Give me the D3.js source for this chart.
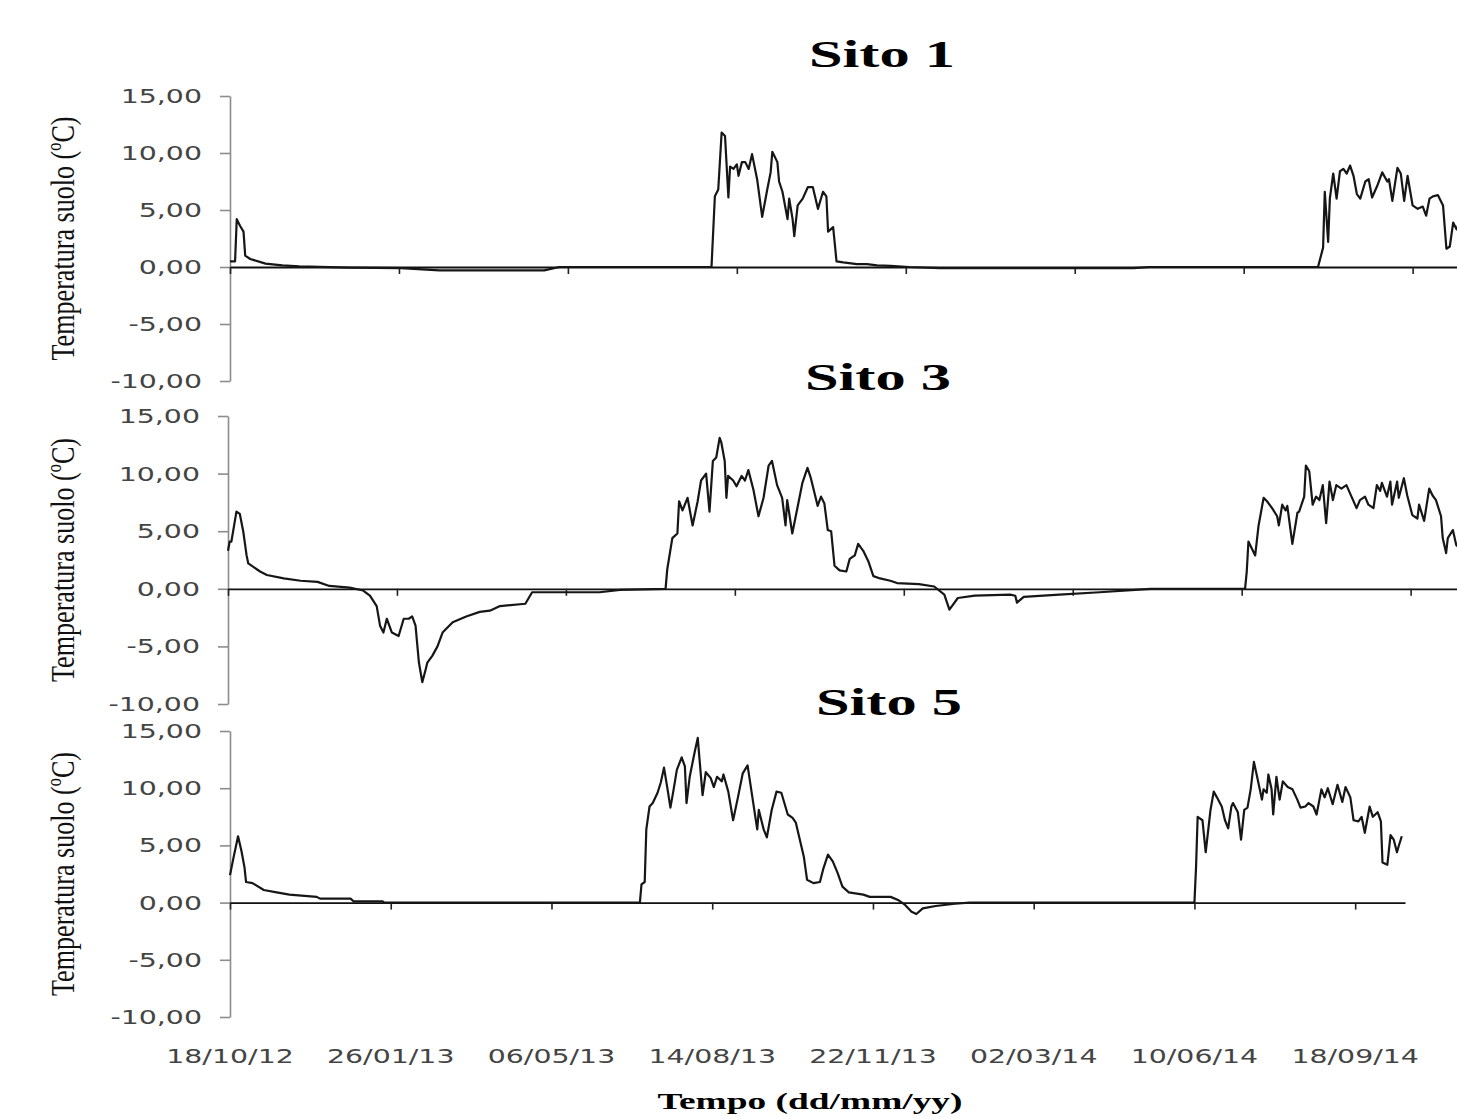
<!DOCTYPE html>
<html>
<head>
<meta charset="utf-8">
<script src="https://cdn.jsdelivr.net/npm/d3@7"></script>
<style>
  body { margin: 0; background: #fff; overflow: hidden; }
  svg { display: block; }
</style>
</head>
<body>
<div id="chart"></div>
<script>
// record starts 18/10/12, ticks every 100 days
let startDate = new Date(Date.UTC(2012, 9, 18));
let endDay = 731;
let tickDays = [0, 100, 200, 300, 400, 500, 600, 700];
let yTicks = [15, 10, 5, 0, -5, -10];
let siteNames = ['Sito 1', 'Sito 3', 'Sito 5'];

// [days since 18/10/12, soil temperature]
let sito1 = [[0,0.5],[3,0.5],[4,4.2],[6,3.6],[8,3.1],[9,1.0],[12,0.7],[21,0.3],[31,0.15],[41,0.05],[71,-0.05],[101,-0.1],[124,-0.3],[186,-0.3],[195,0],[285,0],[287,6.2],[289,6.8],[291,11.8],[293,11.5],[295,6.1],[296,8.8],[298,8.6],[300,9.0],[301,8.0],[303,9.2],[305,9.2],[307,8.6],[309,9.9],[312,7.7],[315,4.4],[318,6.8],[320,8.3],[321,10.1],[324,9.2],[325,7.5],[327,6.6],[330,4.2],[331,6.0],[333,4.2],[334,2.7],[336,5.4],[339,6.0],[342,7.0],[345,7.0],[348,5.1],[351,6.6],[353,6.2],[354,3.1],[357,3.5],[359,0.5],[363,0.4],[371,0.25],[377,0.25],[383,0.15],[391,0.1],[402,0],[420,-0.1],[535,-0.1],[544,0],[644,0],[647,1.7],[648,6.6],[650,2.2],[651,6.0],[653,8.2],[655,6.0],[657,8.4],[659,8.6],[661,8.2],[663,8.9],[665,8.0],[667,6.4],[669,6.0],[672,7.5],[674,7.7],[676,6.1],[679,7.1],[682,8.3],[685,7.5],[686,7.7],[688,5.8],[691,8.7],[693,8.2],[695,5.8],[697,8.0],[700,5.4],[703,5.1],[706,5.3],[708,4.5],[710,6.0],[712,6.2],[715,6.3],[718,5.4],[720,1.6],[722,1.8],[724,3.9],[726,3.3],[729,4.5]];

let sito3 = [[0,3.3],[1,4.1],[2,4.1],[5,6.7],[7,6.5],[9,5.0],[11,2.9],[12,2.2],[15,1.9],[19,1.5],[23,1.2],[33,0.9],[43,0.7],[53,0.6],[60,0.25],[72,0.1],[80,-0.15],[84,-0.6],[88,-1.5],[90,-3.2],[92,-3.8],[94,-2.6],[97,-3.8],[101,-4.1],[104,-2.6],[107,-2.6],[109,-2.4],[111,-3.2],[113,-6.4],[115,-8.1],[117,-7.0],[118,-6.4],[121,-5.8],[124,-5.0],[127,-3.8],[133,-2.9],[141,-2.4],[149,-2.0],[155,-1.9],[161,-1.5],[176,-1.3],[180,-0.3],[220,-0.3],[232,-0.1],[259,0],[260,1.7],[263,4.4],[266,4.8],[267,7.6],[269,6.8],[272,7.9],[275,5.5],[278,7.6],[280,9.4],[283,10.0],[285,6.7],[287,11.1],[289,11.4],[291,13.1],[292,12.7],[294,11.1],[295,7.9],[296,9.8],[299,9.4],[301,8.9],[304,9.8],[306,9.4],[308,10.3],[311,8.6],[314,6.3],[317,7.9],[320,10.7],[322,11.1],[325,9.0],[328,7.9],[330,5.5],[331,7.7],[334,4.8],[337,7.0],[340,9.2],[343,10.5],[345,9.6],[349,7.2],[351,8.0],[353,7.4],[355,5.1],[357,5.0],[359,2.0],[362,1.6],[366,1.5],[368,2.6],[371,2.9],[373,3.9],[376,3.3],[379,2.4],[382,1.1],[386,0.9],[392,0.7],[396,0.5],[409,0.4],[418,0.2],[424,-0.5],[427,-1.8],[432,-0.8],[442,-0.6],[463,-0.5],[466,-0.6],[467,-1.2],[471,-0.7],[492,-0.5],[516,-0.3],[537,-0.1],[546,0],[602,0],[603,1.5],[604,4.1],[606,3.5],[608,2.9],[610,5.5],[613,7.9],[615,7.6],[618,7.0],[621,6.3],[622,5.5],[624,7.3],[626,6.8],[627,7.2],[630,3.9],[633,6.6],[634,6.7],[637,8.0],[638,10.7],[640,10.2],[642,7.3],[644,8.0],[646,7.7],[648,9.0],[650,5.7],[652,9.3],[654,7.7],[656,9.0],[659,8.7],[662,9.0],[665,8.0],[668,7.0],[670,7.7],[673,8.0],[675,7.3],[678,7.0],[680,9.0],[682,8.5],[683,9.2],[686,8.0],[688,9.3],[689,7.3],[692,9.3],[693,7.9],[696,9.6],[698,8.1],[701,6.4],[704,6.1],[705,7.3],[708,5.9],[711,8.7],[713,8.1],[715,7.7],[718,6.3],[719,4.4],[721,3.1],[722,4.4],[725,5.1],[727,3.8],[729,3.5]];

let sito5 = [[0,2.4],[2,3.8],[5,5.8],[7,4.6],[9,3.1],[10,1.8],[14,1.7],[21,1.1],[29,0.9],[37,0.7],[54,0.5],[56,0.35],[75,0.35],[77,0.1],[95,0.1],[96,0],[255,0],[256,1.6],[258,1.8],[259,6.4],[261,8.4],[263,8.7],[266,9.6],[268,10.5],[270,11.8],[272,10.1],[274,8.3],[276,9.9],[278,11.6],[281,12.7],[283,11.9],[284,8.7],[286,11.0],[289,13.1],[291,14.4],[292,12.7],[294,9.4],[296,11.4],[299,10.9],[301,10.1],[303,11.0],[306,10.6],[307,11.2],[310,9.7],[313,7.2],[316,9.2],[319,11.3],[322,12.0],[325,9.2],[328,6.4],[329,8.1],[332,6.4],[334,5.7],[337,8.1],[340,9.7],[343,9.6],[347,7.7],[350,7.4],[352,7.0],[354,5.8],[357,4.0],[359,2.0],[363,1.7],[367,1.8],[369,2.9],[372,4.2],[375,3.6],[378,2.6],[381,1.4],[385,0.9],[394,0.7],[398,0.5],[411,0.5],[416,0.2],[420,-0.2],[424,-0.8],[427,-1.0],[431,-0.5],[439,-0.3],[451,-0.1],[460,0],[600,0],[601,3.1],[602,7.5],[605,7.2],[607,4.4],[610,8.1],[612,9.7],[614,9.2],[617,8.4],[619,7.2],[621,6.5],[623,8.4],[624,8.7],[627,7.9],[629,5.5],[631,8.1],[633,8.3],[635,9.9],[637,12.3],[639,11.0],[642,9.0],[643,9.9],[645,9.6],[646,11.2],[648,9.9],[649,7.7],[651,11.0],[653,9.0],[655,10.6],[658,10.1],[661,9.9],[664,9.0],[666,8.3],[669,8.4],[671,8.7],[674,8.4],[676,7.7],[679,9.9],[681,9.2],[683,10.0],[686,8.6],[689,10.3],[692,8.8],[694,10.1],[697,9.2],[699,7.2],[702,7.1],[704,7.5],[706,6.1],[709,8.4],[711,7.5],[714,7.9],[716,7.1],[717,3.5],[720,3.3],[722,5.9],[724,5.5],[726,4.4],[727,4.9],[729,5.8]];

let svgWidth = 1457;
let svgHeight = 1119;

// panel boxes (the picture is wider than its panels for Sito 1 and Sito 3)
let panels = [
  { name: siteNames[0], data: sito1, left: 230, right: 1465, top: 96, bottom: 381, titleX: 882, titleY: 67 },
  { name: siteNames[1], data: sito3, left: 228, right: 1463, top: 416, bottom: 704, titleX: 878, titleY: 390 },
  { name: siteNames[2], data: sito5, left: 230, right: 1405, top: 731, bottom: 1017, titleX: 889, titleY: 715 }
];

let svg = d3.select('#chart')
  .append('svg')
  .attr('width', svgWidth)
  .attr('height', svgHeight);

let dayToDate = d => d3.utcDay.offset(startDate, d);
let commaFmt = v => v.toFixed(2).replace('.', ',');

// widen text like the stretched source image
function stretch(sel, k) {
  sel.each(function () {
    let w = this.getComputedTextLength();
    d3.select(this).attr('textLength', w * k).attr('lengthAdjust', 'spacingAndGlyphs');
  });
}

panels.forEach(function (p, i) {
  let x = d3.scaleUtc()
    .domain([startDate, dayToDate(endDay)])
    .range([p.left, p.right]);

  let y = d3.scaleLinear()
    .domain([-10, 15])
    .range([p.bottom, p.top]);

  // y axis
  let yAxis = svg.append('g')
    .attr('transform', `translate(${p.left}, 0)`)
    .call(d3.axisLeft(y).tickValues(yTicks).tickSize(10).tickSizeOuter(0).tickPadding(18).tickFormat(commaFmt));
  yAxis.select('.domain').attr('stroke', '#8c8c8c').attr('stroke-width', 1.6);
  yAxis.selectAll('.tick line').attr('stroke', '#8c8c8c').attr('stroke-width', 1.6);
  yAxis.selectAll('.tick text')
    .attr('fill', '#444')
    .style('font-family', '"DejaVu Sans", Verdana, sans-serif')
    .style('font-size', '20px')
    .call(stretch, 1.42);

  // x axis crossing at zero
  let xAxis = svg.append('g')
    .attr('transform', `translate(0, ${y(0)})`)
    .call(d3.axisBottom(x).tickValues(tickDays.map(dayToDate)).tickSize(7).tickSizeOuter(0).tickFormat(''));
  xAxis.select('.domain').attr('stroke', '#111').attr('stroke-width', 1.8);
  xAxis.selectAll('.tick line').attr('stroke', '#222').attr('stroke-width', 1.6);

  // temperature line
  let line = d3.line()
    .x(d => x(dayToDate(d[0])))
    .y(d => y(d[1]));

  svg.append('path')
    .datum(p.data)
    .attr('fill', 'none')
    .attr('stroke', '#161616')
    .attr('stroke-width', 2.2)
    .attr('stroke-linejoin', 'round')
    .attr('d', line);

  // panel title
  svg.append('text')
    .attr('x', p.titleX)
    .attr('y', p.titleY)
    .attr('text-anchor', 'middle')
    .attr('textLength', 146)
    .attr('lengthAdjust', 'spacingAndGlyphs')
    .style('font-family', '"Liberation Serif", "Times New Roman", serif')
    .style('font-weight', 'bold')
    .style('font-size', '38px')
    .text(p.name);

  // y title (narrow, as in the source)
  svg.append('text')
    .attr('transform', `translate(74, ${(p.top + p.bottom) / 2}) rotate(-90)`)
    .attr('text-anchor', 'middle')
    .attr('textLength', 244)
    .attr('lengthAdjust', 'spacingAndGlyphs')
    .attr('fill', '#111')
    .style('font-family', '"Liberation Serif", "Times New Roman", serif')
    .style('font-size', '34px')
    .text('Temperatura suolo (ºC)');

  // date labels only under the last panel
  if (i === panels.length - 1) {
    let fmt = d3.utcFormat('%d/%m/%y');
    svg.append('g')
      .selectAll('text')
      .data(tickDays)
      .enter()
      .append('text')
      .attr('x', d => x(dayToDate(d)))
      .attr('y', 1063)
      .attr('text-anchor', 'middle')
      .attr('fill', '#444')
      .style('font-family', '"DejaVu Sans", Verdana, sans-serif')
      .style('font-size', '20px')
      .text(d => fmt(dayToDate(d)))
      .call(stretch, 1.42);
  }
});

// x title
svg.append('text')
  .attr('x', 810)
  .attr('y', 1109)
  .attr('text-anchor', 'middle')
  .attr('textLength', 305)
  .attr('lengthAdjust', 'spacingAndGlyphs')
  .style('font-family', '"Liberation Serif", "Times New Roman", serif')
  .style('font-weight', 'bold')
  .style('font-size', '23px')
  .text('Tempo (dd/mm/yy)');
</script>
</body>
</html>
